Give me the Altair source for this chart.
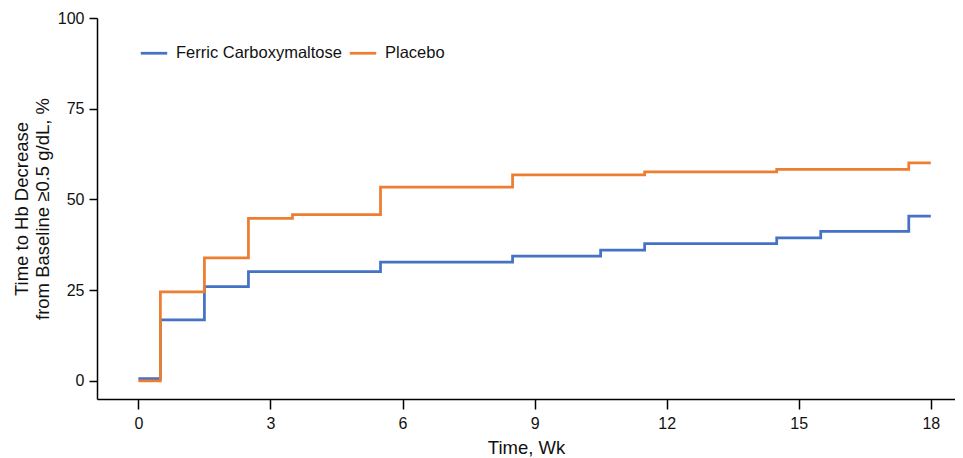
import altair as alt
import pandas as pd

# Step times (weeks) and cumulative percentages
fcm_t = [0, 0.5, 1.5, 2.5, 5.5, 8.5, 10.5, 11.5, 14.5, 15.5, 17.5, 18]
fcm_v = [0.6, 16.8, 26.0, 30.1, 32.7, 34.4, 36.0, 37.8, 39.4, 41.2, 45.4, 45.4]
pbo_t = [0, 0.5, 1.5, 2.5, 3.5, 5.5, 8.5, 11.5, 14.5, 17.5, 18]
pbo_v = [0.0, 24.5, 33.9, 44.8, 45.8, 53.4, 56.8, 57.6, 58.3, 60.1, 60.1]

series = ["Ferric Carboxymaltose", "Placebo"]
colors = ["#4472C4", "#ED7D31"]
x_ticks = [0, 3, 6, 9, 12, 15, 18]
y_ticks = [0, 25, 50, 75, 100]

rows = []
for t, v in zip(fcm_t, fcm_v):
    rows.append({"Time": t, "Pct": v, "Group": series[0]})
for t, v in zip(pbo_t, pbo_v):
    rows.append({"Time": t, "Pct": v, "Group": series[1]})
df = pd.DataFrame(rows)

FONT = "Liberation Sans"

chart = alt.Chart(df).mark_line(interpolate="step-after", strokeWidth=2.75).encode(
    x=alt.X("Time:Q",
            scale=alt.Scale(domain=[-0.94, 18.55], nice=False, zero=False),
            axis=alt.Axis(values=x_ticks, title="Time, Wk", grid=False,
                          tickSize=10, labelPadding=6, titlePadding=7)),
    y=alt.Y("Pct:Q",
            scale=alt.Scale(domain=[-5, 100], nice=False),
            axis=alt.Axis(values=y_ticks, grid=False,
                          title=["Time to Hb Decrease", "from Baseline ≥0.5 g/dL, %"],
                          tickSize=8, labelPadding=5, titlePadding=5)),
    color=alt.Color("Group:N",
                    scale=alt.Scale(domain=series, range=colors),
                    legend=alt.Legend(title=None, orient="none", legendX=42, legendY=20,
                                      direction="horizontal", symbolType="stroke",
                                      symbolSize=700, symbolStrokeWidth=2.75,
                                      labelFontSize=16.5, labelFont=FONT, labelColor="#111",
                                      labelOffset=7, labelLimit=400, columnPadding=2,
                                      padding=0)),
    order=alt.Order("Time:Q"),
).properties(
    width=858, height=381,
    autosize=alt.AutoSizeParams(type="none"),
    padding={"left": 89, "top": 10, "right": 0, "bottom": 60},
).configure_view(stroke=None).configure_axis(
    domainColor="black", domainWidth=1.5, tickColor="black", tickWidth=1.5,
    labelFont=FONT, labelFontSize=16, labelColor="#111",
    titleFont=FONT, titleFontSize=18.5, titleFontWeight="normal", titleColor="#111",
    titleLineHeight=21,
)

chart.save("out.html", embed_options={"renderer": "svg", "actions": False})
